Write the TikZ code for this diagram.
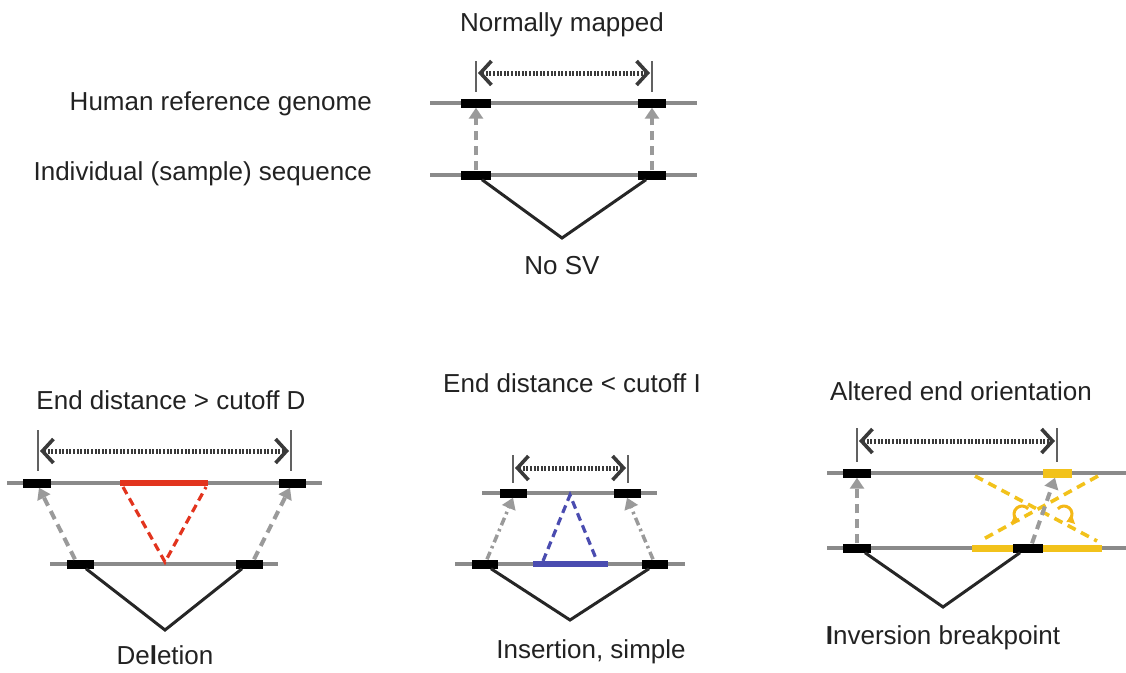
\documentclass[tikz,border=0pt]{standalone}
\usepackage{fontspec}
\setmainfont{Liberation Sans}
\usetikzlibrary{arrows.meta}
\definecolor{chrom}{HTML}{8A8A8A}
\definecolor{readarr}{HTML}{9A9A9A}
\definecolor{span}{HTML}{3A3A3A}
\definecolor{delred}{HTML}{E2341E}
\definecolor{insblue}{HTML}{4A4CB0}
\definecolor{invyel}{HTML}{F2C21B}
\definecolor{txt}{HTML}{222222}
\tikzset{
  chromline/.style={draw=chrom,line width=4pt},
  blk/.style={fill=black,draw=none,minimum height=9pt,inner sep=0pt},
  yblk/.style={fill=invyel,draw=none,minimum height=9pt,inner sep=0pt},
  readlink/.style={draw=readarr,line width=4pt,dash pattern=on 9pt off 6pt,-{Triangle[length=11pt,width=14pt]}},
  readlinkdd/.style={draw=readarr,line width=3.5pt,dash pattern=on 8pt off 4pt on 2.5pt off 4pt,-{Triangle[length=11pt,width=14pt]}},
  pairv/.style={draw=black!85,line width=3pt},
  spanbar/.style={draw=span!80,line width=2.4pt},
  spanarr/.style={draw=span,line width=5pt,dash pattern=on 2pt off 1.6pt,
    {Straight Barb[length=11pt,width=24pt,line width=3.6pt]}-{Straight Barb[length=11pt,width=24pt,line width=3.6pt]}},
  lbl/.style={text=txt,font=\fontsize{26}{30}\selectfont,inner sep=0pt},
}
\begin{document}
\begin{tikzpicture}[x=1pt,y=-1pt]
\useasboundingbox (0,0) rectangle (1126,672);

% ---------------- normal mapping ----------------
\node[lbl] (tnorm) at (562,25) {Normally mapped};
\node[lbl,anchor=east] (lref) at (372,104) {Human reference genome};
\node[lbl,anchor=east] (lsam) at (372,174) {Individual (sample) sequence};
\node[lbl] (nosv) at (562,266) {No SV};

\coordinate (nb1a) at (476,61); \coordinate (nb1b) at (476,92);
\coordinate (nb2a) at (652,61); \coordinate (nb2b) at (652,92);
\draw[spanbar] (nb1a) -- (nb1b);
\draw[spanbar] (nb2a) -- (nb2b);
\coordinate (nsL) at (478,73); \coordinate (nsR) at (650,73);
\draw[spanarr] (nsL) -- (nsR);

\coordinate (nr0) at (430,103); \coordinate (nr1) at (697,103);
\coordinate (ns0) at (430,175); \coordinate (ns1) at (697,175);
\draw[chromline] (nr0) -- (nr1);
\draw[chromline] (ns0) -- (ns1);
\node[blk,minimum width=30pt] (nA) at (476,103) {};
\node[blk,minimum width=28pt] (nB) at (652,103) {};
\node[blk,minimum width=30pt] (nC) at (476,175) {};
\node[blk,minimum width=28pt] (nD) at (652,175) {};
\draw[readlink] (nC.north) -- (nA.south);
\draw[readlink] (nD.north) -- (nB.south);
\coordinate (nV) at (562,238);
\draw[pairv] ([xshift=6pt]nC.south) -- (nV) -- ([xshift=-6pt]nD.south);

% ---------------- deletion ----------------
\node[lbl] (tdel) at (171,400) {End distance > cutoff D};
\node[lbl] (ldel) at (165,655) {De{\bfseries l}etion};

\coordinate (db1a) at (38,430); \coordinate (db1b) at (38,471);
\coordinate (db2a) at (291,430); \coordinate (db2b) at (291,471);
\draw[spanbar] (db1a) -- (db1b);
\draw[spanbar] (db2a) -- (db2b);
\coordinate (dsL) at (40,451); \coordinate (dsR) at (289,451);
\draw[spanarr] (dsL) -- (dsR);

\coordinate (dr0) at (7,483); \coordinate (dr1) at (322,483);
\coordinate (ds0) at (50,564); \coordinate (ds1) at (278,564);
\draw[chromline] (dr0) -- (dr1);
\draw[chromline] (ds0) -- (ds1);
\coordinate (dx0) at (120,483); \coordinate (dx1) at (208,483);
\draw[delred,line width=6pt] (dx0) -- (dx1);
\coordinate (dt0) at (123,487); \coordinate (dtv) at (165,562); \coordinate (dt1) at (206,487);
\draw[delred,line width=3.2pt,dash pattern=on 8pt off 5pt] (dt0) -- (dtv) -- (dt1);
\node[blk,minimum width=28pt] (dA) at (37,483) {};
\node[blk,minimum width=27pt] (dB) at (292,483) {};
\node[blk,minimum width=27pt] (dC) at (80,564) {};
\node[blk,minimum width=27pt] (dD) at (249,564) {};
\draw[readlink] ([xshift=-5pt]dC.north) -- ([xshift=2pt]dA.south);
\draw[readlink] ([xshift=5pt]dD.north) -- ([xshift=-2pt]dB.south);
\coordinate (dV) at (165,630);
\draw[pairv] ([xshift=6pt]dC.south) -- (dV) -- ([xshift=-7pt]dD.south);

% ---------------- insertion ----------------
\node[lbl] (tins) at (572,383) {End distance < cutoff I};
\node[lbl] (lins) at (591,652) {Insertion, simple};

\coordinate (ib1a) at (513,455); \coordinate (ib1b) at (513,483);
\coordinate (ib2a) at (628,455); \coordinate (ib2b) at (628,483);
\draw[spanbar] (ib1a) -- (ib1b);
\draw[spanbar] (ib2a) -- (ib2b);
\coordinate (isL) at (515,468); \coordinate (isR) at (626,468);
\draw[spanarr] (isL) -- (isR);

\coordinate (ir0) at (482,493); \coordinate (ir1) at (657,493);
\coordinate (is0) at (455,564); \coordinate (is1) at (685,564);
\draw[chromline] (ir0) -- (ir1);
\draw[chromline] (is0) -- (is1);
\coordinate (ix0) at (533,564); \coordinate (ix1) at (608,564);
\draw[insblue,line width=6pt] (ix0) -- (ix1);
\coordinate (it0) at (543,561); \coordinate (itv) at (570,495); \coordinate (it1) at (597,561);
\draw[insblue,line width=3.2pt,dash pattern=on 8pt off 5pt] (it0) -- (itv) -- (it1);
\node[blk,minimum width=27pt] (iA) at (513,493) {};
\node[blk,minimum width=27pt] (iB) at (627,493) {};
\node[blk,minimum width=26pt] (iC) at (485,564) {};
\node[blk,minimum width=26pt] (iD) at (655,564) {};
\draw[readlinkdd] ([xshift=2pt]iC.north) -- (iA.south);
\draw[readlinkdd] ([xshift=-2pt]iD.north) -- (iB.south);
\coordinate (iV) at (570,620);
\draw[pairv] ([xshift=6pt]iC.south) -- (iV) -- ([xshift=-6pt]iD.south);

% ---------------- inversion ----------------
\node[lbl] (tinv) at (961,391) {Altered end orientation};
\node[lbl] (linv) at (943,638) {{\bfseries I}nversion breakpoint};

\coordinate (vb1a) at (857,428); \coordinate (vb1b) at (857,462);
\coordinate (vb2a) at (1057,428); \coordinate (vb2b) at (1057,462);
\draw[spanbar] (vb1a) -- (vb1b);
\draw[spanbar] (vb2a) -- (vb2b);
\coordinate (vsL) at (859,441); \coordinate (vsR) at (1055,441);
\draw[spanarr] (vsL) -- (vsR);

\coordinate (vr0) at (827,473); \coordinate (vr1) at (1126,473);
\coordinate (vs0) at (827,548); \coordinate (vs1) at (1126,548);
\draw[chromline] (vr0) -- (vr1);
\draw[chromline] (vs0) -- (vs1);
\coordinate (vy0) at (972,548); \coordinate (vy1) at (1013,548);
\coordinate (vy2) at (1043,548); \coordinate (vy3) at (1102,548);
\draw[invyel,line width=7pt] (vy0) -- (vy1);
\draw[invyel,line width=7pt] (vy2) -- (vy3);
% crossing segments of the inverted stretch
\coordinate (vx0) at (975,476); \coordinate (vx1) at (1097,541);
\coordinate (vx2) at (1098,476); \coordinate (vx3) at (980,541);
\draw[invyel,line width=3.6pt,dash pattern=on 9pt off 6pt] (vx0) -- (vx1);
\draw[invyel,line width=3.6pt,dash pattern=on 9pt off 6pt] (vx2) -- (vx3);
% rotation marks
\coordinate (vc1) at (1022,514); \coordinate (vc2) at (1064,514);
\draw[invyel!85!orange,line width=3pt,-{Triangle[length=7pt,width=10pt]}]
  ([shift={(40:8pt)}]vc1) arc[start angle=40,end angle=250,radius=8pt];
\draw[invyel!85!orange,line width=3pt,-{Triangle[length=7pt,width=10pt]}]
  ([shift={(140:8pt)}]vc2) arc[start angle=140,end angle=-70,radius=8pt];

\node[blk,minimum width=28pt] (vA) at (857,473) {};
\node[yblk,minimum width=29pt] (vB) at (1057,473) {};
\node[blk,minimum width=28pt] (vC) at (857,548) {};
\node[blk,minimum width=30pt] (vD) at (1028,548) {};
\draw[readlink] (vC.north) -- (vA.south);
\draw[readlink] ([xshift=4pt]vD.north) -- ([xshift=-2pt]vB.south);
\coordinate (vV) at (943,607);
\draw[pairv] ([xshift=8pt]vC.south) -- (vV) -- ([xshift=-8pt]vD.south);
\end{tikzpicture}
\end{document}
